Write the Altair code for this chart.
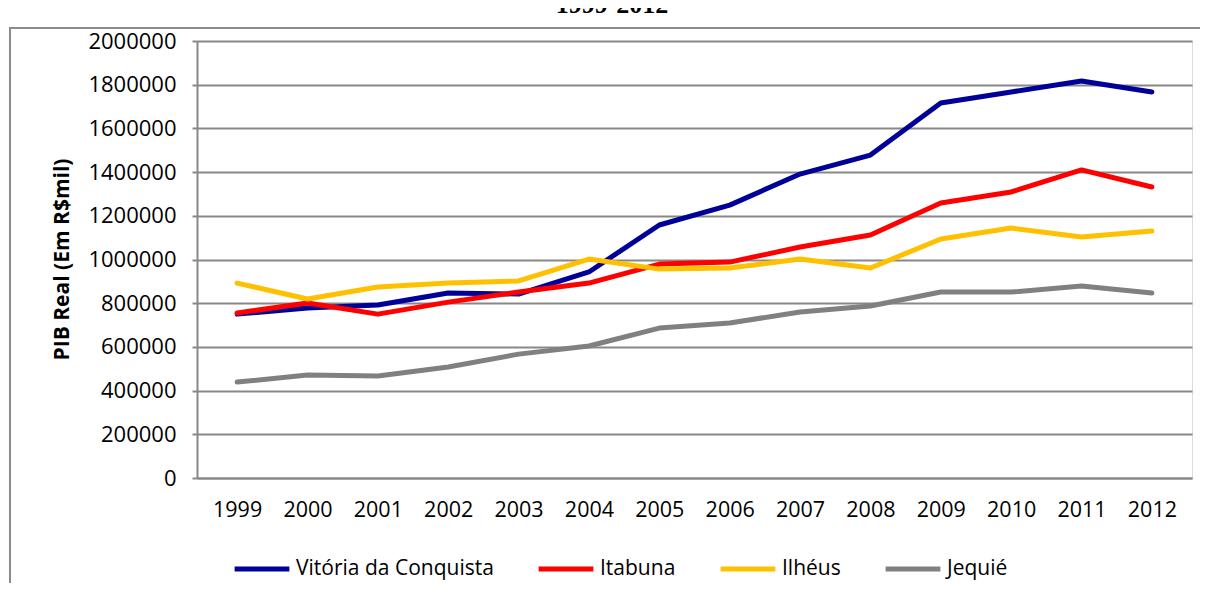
import altair as alt
import pandas as pd

years = ["1999", "2000", "2001", "2002", "2003", "2004", "2005",
         "2006", "2007", "2008", "2009", "2010", "2011", "2012"]
series_names = ["Vitória da Conquista", "Itabuna", "Ilhéus", "Jequié"]
vitoria = [750000, 778000, 792000, 847000, 842000, 943000, 1158000,
           1249000, 1391000, 1478000, 1716000, 1767000, 1817000, 1767000]
itabuna = [755000, 801000, 750000, 805000, 851000, 892000, 979000,
           988000, 1057000, 1112000, 1259000, 1309000, 1410000, 1332000]
ilheus = [892000, 819000, 874000, 892000, 902000, 1002000, 956000,
          961000, 1002000, 961000, 1094000, 1144000, 1103000, 1130000]
jequie = [439000, 471000, 467000, 508000, 567000, 604000, 686000,
          709000, 760000, 787000, 851000, 851000, 879000, 847000]
colors = ["#000099", "#FF0000", "#FFC000", "#808080"]
y_ticks = [0, 200000, 400000, 600000, 800000, 1000000, 1200000,
           1400000, 1600000, 1800000, 2000000]
heading = "1999-2012"

rows = []
for name, vals in zip(series_names, [vitoria, itabuna, ilheus, jequie]):
    for yr, v in zip(years, vals):
        rows.append({"Ano": yr, "Município": name, "PIB": v,
                     "ordem": series_names.index(name)})
df = pd.DataFrame(rows)

FONT = "Open Sans"

lines = alt.Chart(df).mark_line(strokeWidth=5, strokeCap="round", strokeJoin="round").encode(
    x=alt.X("Ano:N", sort=years,
            scale=alt.Scale(type="point", padding=0.57),
            axis=alt.Axis(title=None, labelAngle=0, tickSize=0, labelPadding=21,
                          domainColor="#888888", domainWidth=2,
                          labelFont=FONT, labelFontSize=21.5, labelColor="#000000",
                          grid=False)),
    y=alt.Y("PIB:Q", scale=alt.Scale(domain=[0, 2000000], nice=False),
            axis=alt.Axis(values=y_ticks, format="d", title="PIB Real (Em R$mil)",
                          titleFont=FONT, titleFontSize=21, titleFontWeight="bold",
                          titleColor="#000000", titleX=-135, titleY=218,
                          titleAngle=-90, titleAlign="center", titleBaseline="middle",
                          titleLimit=400,
                          labelFont=FONT, labelFontSize=22, labelColor="#000000",
                          labelPadding=16, tickSize=5, tickColor="#888888", tickWidth=2,
                          domainColor="#888888", domainWidth=2,
                          grid=True, gridColor="#888888", gridWidth=2)),
    color=alt.Color("Município:N", sort=series_names,
                    scale=alt.Scale(domain=series_names, range=colors),
                    legend=alt.Legend(title=None, orient="none", direction="horizontal",
                                      legendX=35, legendY=498, padding=0,
                                      symbolType="stroke", symbolSize=3000,
                                      symbolStrokeWidth=5, labelFont=FONT,
                                      labelFontSize=21, labelColor="#000000",
                                      labelLimit=400,
                                      labelOffset=4, columnPadding=34)),
    order=alt.Order("ordem:Q"),
)

frame = alt.Chart(pd.DataFrame({"a": [0]})).mark_rect(
    fill=None, stroke="#8C8C8C", strokeWidth=2
).encode(x=alt.value(-187), x2=alt.value(1100), y=alt.value(-13), y2=alt.value(700))

title_text = alt.Chart(pd.DataFrame({"t": [heading]})).mark_text(
    font="Liberation Serif", fontSize=26, fontWeight="bold", baseline="alphabetic",
    align="center", color="#000000"
).encode(text="t:N", x=alt.value(415), y=alt.value(-28))

chart = alt.layer(frame, lines, title_text).properties(
    width=995, height=437,
    autosize=alt.AutoSizeParams(type="none"),
    padding={"left": 189, "top": 33, "right": 8, "bottom": 105},
).configure_view(stroke=None).configure(background="#FFFFFF")

chart.save("out.html", embed_options={"renderer": "svg", "actions": False})
